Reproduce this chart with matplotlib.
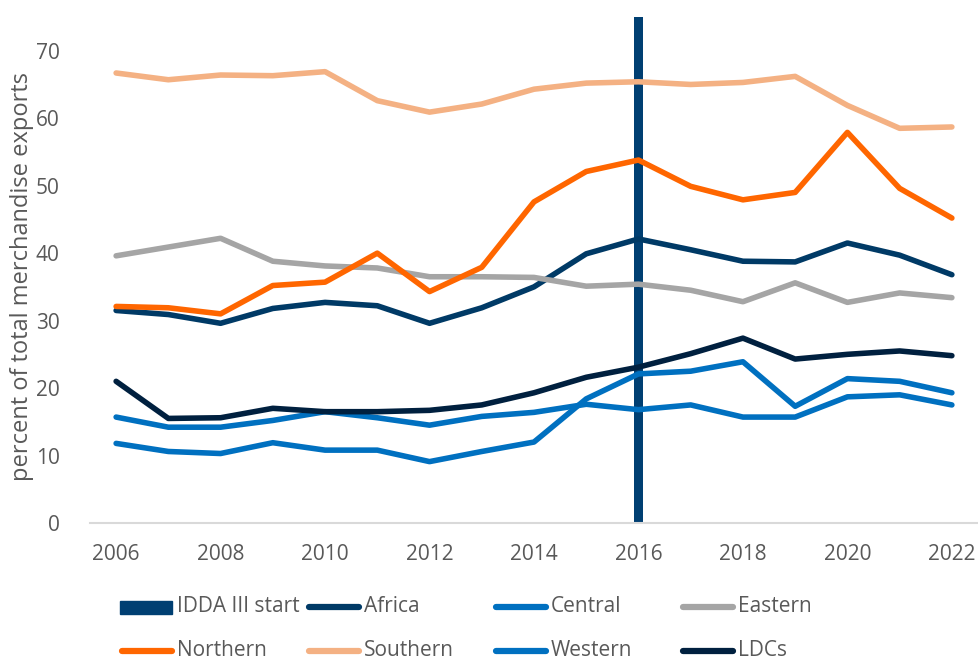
import matplotlib
matplotlib.use("Agg")
import matplotlib.pyplot as plt
from matplotlib.lines import Line2D
from matplotlib.patches import Rectangle

plt.rcParams['font.family'] = ['Open Sans', 'DejaVu Sans']

years = list(range(2006, 2023))
africa = [31.5, 30.9, 29.6, 31.8, 32.7, 32.2, 29.6, 31.9, 35.0, 39.9, 42.1, 40.5, 38.8, 38.7, 41.5, 39.7, 36.8]
central = [11.8, 10.6, 10.3, 11.9, 10.8, 10.8, 9.1, 10.6, 12.0, 18.4, 22.1, 22.5, 23.9, 17.3, 21.4, 21.0, 19.3]
eastern = [39.6, 40.9, 42.2, 38.8, 38.1, 37.8, 36.5, 36.5, 36.4, 35.1, 35.4, 34.5, 32.8, 35.6, 32.7, 34.1, 33.4]
northern = [32.1, 31.9, 31.0, 35.2, 35.7, 40.0, 34.3, 37.9, 47.6, 52.1, 53.8, 49.9, 47.9, 49.0, 57.9, 49.6, 45.2]
southern = [66.7, 65.7, 66.4, 66.3, 66.9, 62.6, 60.9, 62.1, 64.3, 65.2, 65.4, 65.0, 65.3, 66.2, 61.9, 58.5, 58.7]
western = [15.7, 14.2, 14.2, 15.2, 16.5, 15.6, 14.5, 15.8, 16.4, 17.6, 16.8, 17.5, 15.7, 15.7, 18.7, 19.0, 17.5]
ldcs = [21.0, 15.5, 15.6, 17.0, 16.5, 16.5, 16.7, 17.5, 19.3, 21.6, 23.1, 25.1, 27.4, 24.3, 25.0, 25.5, 24.8]
idda_year = [2016]
idda_value = [75]

series = [
    ("Africa", africa, "#003A66"),
    ("Central", central, "#0070C0"),
    ("Eastern", eastern, "#A5A5A5"),
    ("Northern", northern, "#FF6600"),
    ("Southern", southern, "#F4B183"),
    ("Western", western, "#0070C0"),
    ("LDCs", ldcs, "#00203F"),
]
bar_color = "#003F72"
text_color = "#595959"

fig = plt.figure(figsize=(9.79, 6.61), dpi=100)
W, H = 979, 661
ax = fig.add_axes([90 / W, 1 - 523 / H, (978 - 90) / W, (523 - 17) / H])

ax.bar(idda_year, idda_value, width=0.165, color=bar_color, zorder=1)
for name, vals, col in series:
    ax.plot(years, vals, color=col, lw=4.0, solid_capstyle='round', solid_joinstyle='round', zorder=2)

ax.set_xlim(2005.5, 2022.5)
ax.set_ylim(0, 75)
ax.set_yticks(range(0, 71, 10))
ax.set_xticks(range(2006, 2023, 2))
for s in ['top', 'right', 'left']:
    ax.spines[s].set_visible(False)
ax.spines['bottom'].set_color('#D9D9D9')
ax.spines['bottom'].set_linewidth(1.5)
ax.tick_params(axis='both', length=0, labelsize=15, colors=text_color)
ax.tick_params(axis='y', pad=22)
ax.tick_params(axis='x', pad=15)

fig.text(22 / W, 1 - 276 / H, "percent of total merchandise exports", fontsize=17,
         color=text_color, rotation=90, ha='center', va='center')

# legend (manual layout)
entries = [("IDDA III start", bar_color, 'bar')] + [(n, c, 'line') for n, _, c in series]
col_x = [120, 307, 494, 681]
row_y = [607, 651]
for i, (label, col, kind) in enumerate(entries):
    r, c = divmod(i, 4)
    x0 = col_x[c]
    y0 = row_y[r]
    if kind == 'bar':
        fig.add_artist(Rectangle((x0 / W, 1 - (y0 + 6.5) / H), 52 / W, 13 / H,
                                 transform=fig.transFigure, color=col))
    else:
        fig.add_artist(Line2D([(x0 + 2) / W, (x0 + 52) / W], [1 - y0 / H, 1 - y0 / H],
                              transform=fig.transFigure, color=col, lw=4.5,
                              solid_capstyle='round'))
    fig.text((x0 + 57) / W, 1 - y0 / H, label, fontsize=15, color=text_color,
             va='center', ha='left')

fig.savefig("out.png", dpi=100)
